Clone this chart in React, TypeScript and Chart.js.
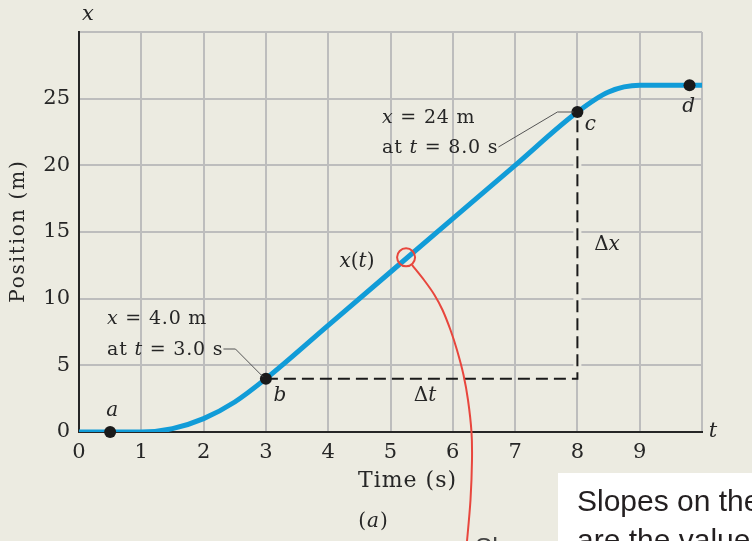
import React, { useEffect, useRef } from "react";
import { Chart, registerables } from "chart.js";

Chart.register(...registerables);

// Position–time curve x(t), sampled along the plotted motion
const timeS = [0, 0.5, 1, 1.5, 2, 2.5, 3, 4, 5, 6, 7, 8, 8.5, 9, 10];
const positionM = [0, 0, 0, 0.25, 1, 2.25, 4, 8, 12, 16, 20, 24, 25.5, 26, 26];

// Labelled instants a, b, c, d
const pointNames = ["a", "b", "c", "d"];
const pointTimes = [0.5, 3, 8, 9.8];
const pointPositions = [0, 4, 24, 26];

// Highlighted spot on the curve where the slope is read
const tangentTime = 5.25;
const tangentPosition = 13.1;

// Red pointer running from the highlighted spot down out of the frame
const pointerTimes = [5.345, 5.538, 5.706, 5.835, 5.963, 6.067, 6.172, 6.244, 6.3, 6.308, 6.284, 6.228, 6.196];
const pointerPositions = [12.53, 11.4, 10.28, 9.15, 7.65, 6.15, 4.28, 2.4, 0, -2.1, -5.1, -8.18, -9.6];

// Axis ranges
const timeMax = 10;
const positionMax = 30;
const timeStep = 1;
const positionStep = 5;

const BG = "#ecebe1";
const BLUE = "#119cd8";
const RED = "#e8463d";
const INK = "#262626";
const GRID = "#bdbdbd";
const SERIF = '"DejaVu Serif", "Liberation Serif", serif';
const SANS = '"Liberation Sans", Arial, sans-serif';

type Run = { t: string; i?: boolean };

function drawRuns(
  ctx: CanvasRenderingContext2D,
  runs: Run[],
  x: number,
  y: number,
  size: number,
  align: "left" | "center" | "right",
  spacing = 0,
  color = INK
) {
  ctx.save();
  (ctx as any).letterSpacing = `${spacing}px`;
  const fonts = runs.map((r) => `${r.i ? "italic " : ""}${size}px ${SERIF}`);
  const widths = runs.map((r, k) => {
    ctx.font = fonts[k];
    return ctx.measureText(r.t).width;
  });
  const total = widths.reduce((a, b) => a + b, 0) - spacing;
  let cx = align === "left" ? x : align === "center" ? x - total / 2 : x - total;
  ctx.fillStyle = color;
  ctx.textAlign = "left";
  ctx.textBaseline = "middle";
  runs.forEach((r, k) => {
    ctx.font = fonts[k];
    ctx.fillText(r.t, cx, y);
    cx += widths[k];
  });
  ctx.restore();
  return total;
}

const backgroundPlugin = {
  id: "paperBackground",
  beforeDraw(chart: Chart) {
    const { ctx, width, height } = chart;
    ctx.save();
    ctx.fillStyle = BG;
    ctx.fillRect(0, 0, width, height);
    ctx.restore();
  },
};

const annotationPlugin = {
  id: "figureAnnotations",
  afterDraw(chart: Chart) {
    const { ctx } = chart;
    const xs = chart.scales.x;
    const ys = chart.scales.y;
    const px = (t: number) => xs.getPixelForValue(t);
    const py = (v: number) => ys.getPixelForValue(v);
    const area = chart.chartArea;

    // axis symbols
    drawRuns(ctx, [{ t: "x", i: true }], px(0) + 9, py(positionMax) - 17, 21, "center");
    drawRuns(ctx, [{ t: "t", i: true }], px(timeMax) + 11, py(0), 21, "center");

    // vertical axis title
    ctx.save();
    ctx.translate(19, (area.top + area.bottom) / 2);
    ctx.rotate(-Math.PI / 2);
    drawRuns(ctx, [{ t: "Position (m)" }], 0, 0, 20, "center", 1.8);
    ctx.restore();

    // point letters
    const offsets = [
      [2, -21],
      [14, 17],
      [13, 13],
      [-1, 21],
    ];
    pointNames.forEach((name, k) => {
      drawRuns(
        ctx,
        [{ t: name, i: true }],
        px(pointTimes[k]) + offsets[k][0],
        py(pointPositions[k]) + offsets[k][1],
        20,
        "center"
      );
    });

    // curve name
    drawRuns(ctx, [{ t: "x", i: true }, { t: "(" }, { t: "t", i: true }, { t: ")" }], 357, 262, 20, "center");

    // interval labels
    drawRuns(ctx, [{ t: "Δ" }, { t: "t", i: true }], 425, 396, 20, "center");
    drawRuns(ctx, [{ t: "Δ" }, { t: "x", i: true }], 607, 245, 20, "center");

    // callout for b
    drawRuns(ctx, [{ t: "x", i: true }, { t: " = 4.0 m" }], 107, 319, 19, "left", 0.8);
    const wb = drawRuns(ctx, [{ t: "at " }, { t: "t", i: true }, { t: " = 3.0 s" }], 107, 350, 19, "left", 0.8);
    // callout for c
    drawRuns(ctx, [{ t: "x", i: true }, { t: " = 24 m" }], 382, 118, 19, "left", 0.8);
    const wc = drawRuns(ctx, [{ t: "at " }, { t: "t", i: true }, { t: " = 8.0 s" }], 382, 148, 19, "left", 0.8);

    ctx.save();
    ctx.strokeStyle = "#555";
    ctx.lineWidth = 1;
    const bx = px(pointTimes[1]);
    const byy = py(pointPositions[1]);
    ctx.beginPath();
    ctx.moveTo(107 + wb + 1, 349);
    ctx.lineTo(107 + wb + 13, 349);
    ctx.lineTo(bx - 3, byy - 2);
    ctx.stroke();
    const cxp = px(pointTimes[2]);
    const cyp = py(pointPositions[2]);
    ctx.beginPath();
    ctx.moveTo(382 + wc + 1, 147);
    ctx.lineTo(cxp - 20, cyp);
    ctx.lineTo(cxp - 4, cyp);
    ctx.stroke();
    ctx.restore();

    // x-axis title and panel tag
    drawRuns(ctx, [{ t: "Time (s)" }], 407, 481, 22, "center", 1);
    drawRuns(ctx, [{ t: "(" }, { t: "a", i: true }, { t: ")" }], 373, 522, 20, "center", 1);

    // caption text below the pointer
    ctx.save();
    ctx.fillStyle = "#444";
    ctx.font = `26px ${SANS}`;
    ctx.textBaseline = "alphabetic";
    ctx.fillText("Slope", 475, 556);
    ctx.restore();

    // side note box
    ctx.save();
    ctx.fillStyle = "#ffffff";
    ctx.fillRect(558, 473, chart.width - 558, chart.height - 473);
    ctx.fillStyle = "#231f20";
    ctx.font = `30px ${SANS}`;
    ctx.textBaseline = "alphabetic";
    ctx.fillText("Slopes on the", 577, 511);
    ctx.fillText("are the values", 577, 550);
    ctx.restore();
  },
};

export default function App() {
  const canvasRef = useRef<HTMLCanvasElement | null>(null);

  useEffect(() => {
    const canvas = canvasRef.current;
    if (!canvas) return;

    const curve = timeS.map((t, k) => ({ x: t, y: positionM[k] }));
    const marks = pointTimes.map((t, k) => ({ x: t, y: pointPositions[k] }));
    const pointer = pointerTimes.map((t, k) => ({ x: t, y: pointerPositions[k] }));
    const b = marks[1];
    const c = marks[2];

    const tickFont = { family: SERIF, size: 21 };

    const chart = new Chart(canvas, {
      type: "scatter",
      data: {
        datasets: [
          {
            data: [{ x: c.x, y: b.y }, { x: c.x, y: c.y }],
            showLine: true,
            borderColor: BG,
            borderWidth: 8,
            pointRadius: 0,
            order: 6,
          },
          {
            data: [b, { x: c.x, y: b.y }, c],
            showLine: true,
            borderColor: "#1a1a1a",
            borderWidth: 2,
            borderDash: [12, 6],
            pointRadius: 0,
            order: 5,
          },
          {
            data: pointer,
            showLine: true,
            borderColor: RED,
            borderWidth: 2,
            tension: 0.3,
            pointRadius: 0,
            clip: false,
            order: 4,
          },
          {
            data: curve,
            showLine: true,
            borderColor: BLUE,
            borderWidth: 5,
            cubicInterpolationMode: "monotone",
            pointRadius: 0,
            order: 3,
          },
          {
            data: marks,
            showLine: false,
            pointRadius: 6,
            pointBackgroundColor: "#1a1a1a",
            pointBorderWidth: 0,
            clip: false,
            order: 2,
          },
          {
            data: [{ x: tangentTime, y: tangentPosition }],
            showLine: false,
            pointRadius: 9,
            pointBackgroundColor: "rgba(0,0,0,0)",
            pointBorderColor: RED,
            pointBorderWidth: 2,
            clip: false,
            order: 1,
          },
        ] as any,
      },
      options: {
        responsive: false,
        animation: false,
        devicePixelRatio: 1,
        events: [],
        layout: { padding: { top: 32, right: 50, left: 0, bottom: 0 } },
        plugins: {
          legend: { display: false },
          tooltip: { enabled: false },
        },
        scales: {
          x: {
            type: "linear",
            position: "bottom",
            min: 0,
            max: timeMax,
            afterFit: (s: any) => {
              s.height = 109;
            },
            ticks: {
              stepSize: timeStep,
              padding: 8,
              font: tickFont,
              color: INK,
              maxRotation: 0,
              callback: (v: any) => (Number(v) === timeMax ? "" : String(v)),
            },
            grid: { color: GRID, lineWidth: 2, drawTicks: false },
            border: { color: INK, width: 2 },
          },
          y: {
            type: "linear",
            position: "left",
            min: 0,
            max: positionMax,
            afterFit: (s: any) => {
              s.width = 79;
            },
            ticks: {
              stepSize: positionStep,
              padding: 9,
              font: tickFont,
              color: INK,
              callback: (v: any) => (Number(v) === positionMax ? "" : String(v)),
            },
            grid: { color: GRID, lineWidth: 2, drawTicks: false },
            border: { color: INK, width: 2 },
          },
        },
      },
      plugins: [backgroundPlugin, annotationPlugin],
    });

    return () => chart.destroy();
  }, []);

  return (
    <div style={{ position: "fixed", left: 0, top: 0, width: 752, height: 541, overflow: "hidden", background: BG }}>
      <canvas ref={canvasRef} width={752} height={541} style={{ display: "block" }} />
    </div>
  );
}
